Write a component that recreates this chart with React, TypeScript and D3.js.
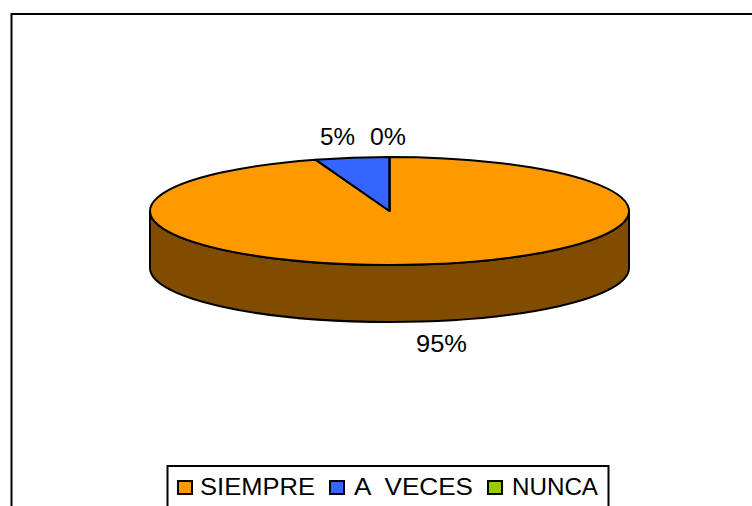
import React from "react";
import * as d3 from "d3";

const categories = ["SIEMPRE", "A  VECES", "NUNCA"];
const seriesValues = [95, 5, 0];
const percentLabels = ["95%", "5%", "0%"];
const colors = ["#FF9900", "#3366FF", "#99CC00"];
const sideColor = "#804D00";

const W = 752, H = 506;
const cx = 389.5, cy = 211, rx = 239.5, ry = 54, depth = 57;
const FONT = "'Liberation Sans', Arial, sans-serif";

const pie = d3.pie<number>().sort(null).value((d) => d);
const arcs = pie(seriesValues);
const arcGen = d3.arc<d3.PieArcDatum<number>>().innerRadius(0).outerRadius(rx);
const legendX = d3.scaleOrdinal<string, number>().domain(categories).range([176, 328, 486]);
const legendText = [{ x: 200, w: 115 }, { x: 354, w: 119 }, { x: 512, w: 86 }];
const labelPos = [
  { x: 416, y: 352, w: 51 },
  { x: 320, y: 145, w: 35 },
  { x: 370, y: 145, w: 36 },
];

export default function App() {
  const side = `M${cx - rx},${cy} V${cy + depth} A${rx},${ry} 0 0 0 ${cx + rx},${cy + depth} V${cy} A${rx},${ry} 0 0 1 ${cx - rx},${cy} Z`;
  return (
    <svg width={W} height={H} style={{ position: "fixed", left: 0, top: 0, display: "block", background: "#fff" }}>
      <rect x={11.5} y={14} width={W + 20} height={H + 20} fill="#fff" stroke="#000" strokeWidth={2} />
      <path d={side} fill={sideColor} stroke="#000" strokeWidth={2} strokeLinejoin="round" />
      <g transform={`translate(${cx},${cy}) scale(1,${ry / rx})`}>
        {arcs.map((a, i) => (
          <path key={i} d={arcGen(a) ?? ""} fill={colors[i]} stroke="#000" strokeWidth={2} strokeLinejoin="round" style={{ vectorEffect: "non-scaling-stroke" }} />
        ))}
      </g>
      {percentLabels.map((t, i) => (
        <text key={t} x={labelPos[i].x} y={labelPos[i].y} textLength={labelPos[i].w} lengthAdjust="spacingAndGlyphs" fontFamily={FONT} fontSize={23} fill="#000">{t}</text>
      ))}
      <rect x={167.5} y={466} width={441} height={60} fill="#fff" stroke="#000" strokeWidth={2} />
      {categories.map((c, i) => (
        <g key={c}>
          <rect x={legendX(c)! + 2} y={481} width={14} height={13} fill={colors[i]} stroke="#000" strokeWidth={2} />
          <text x={legendText[i].x} y={495} textLength={legendText[i].w} lengthAdjust="spacingAndGlyphs" fontFamily={FONT} fontSize={23} fill="#000" style={{ whiteSpace: "pre" }}>{c}</text>
        </g>
      ))}
    </svg>
  );
}
